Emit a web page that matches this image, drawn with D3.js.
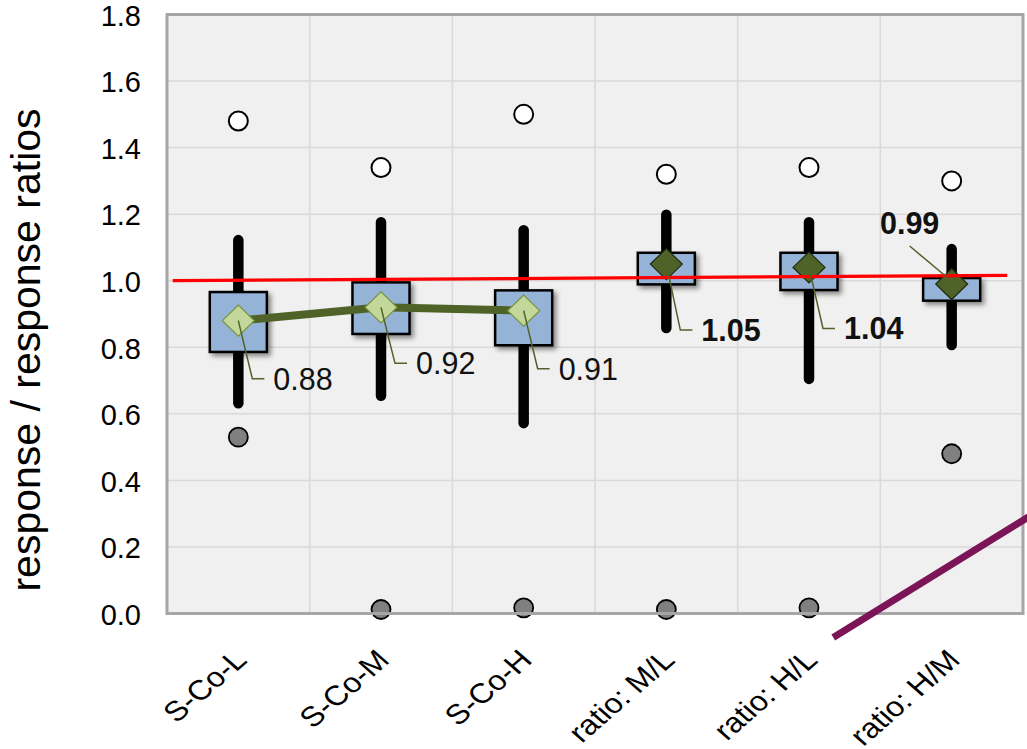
<!DOCTYPE html>
<html>
<head>
<meta charset="utf-8">
<script src="https://cdn.jsdelivr.net/npm/d3@7"></script>
<style>
  html, body { margin: 0; padding: 0; background: #ffffff; }
  svg { display: block; font-family: "Liberation Sans", Arial, sans-serif; }
</style>
</head>
<body>
<svg id="chart" width="1027" height="749"></svg>
<script>
// Groups along the x axis
const categories = ["S-Co-L", "S-Co-M", "S-Co-H", "ratio: M/L", "ratio: H/L", "ratio: H/M"];
// Box (interquartile range) limits
const boxLow  = [0.786, 0.840, 0.806, 0.989, 0.972, 0.940];
const boxHigh = [0.966, 0.995, 0.971, 1.084, 1.084, 1.008];
// Whisker limits
const whiskerLow  = [0.632, 0.654, 0.572, 0.858, 0.705, 0.807];
const whiskerHigh = [1.122, 1.176, 1.152, 1.198, 1.176, 1.095];
// Means (labelled)
const means = [0.88, 0.92, 0.91, 1.05, 1.04, 0.99];
// Extreme values
const maxValues = [1.48, 1.34, 1.50, 1.32, 1.34, 1.30];
const minValues = [0.53, 0.012, 0.017, 0.012, 0.017, 0.48];
// Y axis ticks
const yTicks = [0.0, 0.2, 0.4, 0.6, 0.8, 1.0, 1.2, 1.4, 1.6, 1.8];
// Reference line near 1.0 (category index, value)
const refLine = [[-0.46, 1.0], [5.39, 1.016]];
// Stray diagonal stroke (category index, value)
const diagLine = [[4.17, -0.072], [5.65, 0.32]];
// Vertical offset of each mean label's leader elbow
const labelDrop = [58, 56, 58, 66, 61, -40];

const svg = d3.select("#chart");
const plot = { left: 167, right: 1023, top: 14.5, bottom: 613.5 };

const x = d3.scaleBand().domain(categories).range([plot.left, plot.right]).padding(0);
const xi = d3.scaleLinear()
  .domain([0, categories.length - 1])
  .range([plot.left + x.bandwidth() / 2, plot.right - x.bandwidth() / 2]);
const y = d3.scaleLinear().domain([0, 1.8]).range([plot.bottom, plot.top]);

// Shadow for boxes
const defs = svg.append("defs");
const sh = defs.append("filter").attr("id", "shadow")
  .attr("x", "-30%").attr("y", "-30%").attr("width", "170%").attr("height", "170%");
sh.append("feDropShadow").attr("dx", 3).attr("dy", 3).attr("stdDeviation", 2.5)
  .attr("flood-color", "#000").attr("flood-opacity", 0.45);

// Plot background
svg.append("rect")
  .attr("x", plot.left).attr("y", plot.top)
  .attr("width", plot.right - plot.left).attr("height", plot.bottom - plot.top)
  .attr("fill", "#f0f0f0");

// Gridlines
const grid = svg.append("g").attr("stroke", "#d9d9d9").attr("stroke-width", 1.5);
grid.selectAll("line.h").data(yTicks.slice(1, -1)).join("line")
  .attr("x1", plot.left).attr("x2", plot.right)
  .attr("y1", d => y(d)).attr("y2", d => y(d));
grid.selectAll("line.v").data(categories.slice(1)).join("line")
  .attr("x1", d => x(d)).attr("x2", d => x(d))
  .attr("y1", plot.top).attr("y2", plot.bottom);

// Y axis labels
const yAxis = d3.axisLeft(y).tickValues(yTicks).tickFormat(d3.format(".1f")).tickSize(0).tickPadding(26);
const gy = svg.append("g").attr("transform", `translate(${plot.left},0)`).call(yAxis);
gy.select(".domain").remove();
gy.selectAll("text").attr("font-size", 29).attr("fill", "#000")
  .attr("dy", "0.37em")
  .attr("font-family", "Liberation Sans, Arial, sans-serif");

// Y axis title
svg.append("text")
  .attr("transform", "translate(40,350) rotate(-90)")
  .attr("text-anchor", "middle")
  .attr("font-size", 41).attr("fill", "#000")
  .text("response / response ratios");

// X axis labels (slanted)
const xAxis = d3.axisBottom(x).tickSize(0).tickPadding(0);
const gx = svg.append("g").attr("transform", `translate(0,${plot.bottom})`).call(xAxis);
gx.select(".domain").remove();
gx.selectAll("text")
  .attr("font-size", 30).attr("fill", "#000")
  .attr("font-family", "Liberation Sans, Arial, sans-serif")
  .attr("text-anchor", "end")
  .attr("dy", 0)
  .attr("transform", "translate(10,48) scale(1.07,0.93) rotate(-45)");

// Whiskers
svg.append("g").selectAll("line").data(categories).join("line")
  .attr("x1", d => x(d) + x.bandwidth() / 2).attr("x2", d => x(d) + x.bandwidth() / 2)
  .attr("y1", (d, i) => y(whiskerHigh[i])).attr("y2", (d, i) => y(whiskerLow[i]))
  .attr("stroke", "#000").attr("stroke-width", 10.5).attr("stroke-linecap", "round");

// Boxes
const boxW = x.bandwidth() * 0.4;
svg.append("g").selectAll("rect").data(categories).join("rect")
  .attr("x", d => x(d) + x.bandwidth() / 2 - boxW / 2)
  .attr("width", boxW)
  .attr("y", (d, i) => y(boxHigh[i]))
  .attr("height", (d, i) => y(boxLow[i]) - y(boxHigh[i]))
  .attr("fill", "#95b3d7").attr("stroke", "#000").attr("stroke-width", 2.5)
  .attr("filter", "url(#shadow)");

// Line joining the first three means
svg.append("path")
  .datum(means.slice(0, 3))
  .attr("d", d3.line().x((d, i) => xi(i)).y(d => y(d)))
  .attr("fill", "none").attr("stroke", "#4f6228").attr("stroke-width", 8);

// Extreme value circles
svg.append("g").selectAll("circle").data(maxValues).join("circle")
  .attr("cx", (d, i) => xi(i)).attr("cy", d => y(d)).attr("r", 9.5)
  .attr("fill", "#fff").attr("stroke", "#000").attr("stroke-width", 2);
svg.append("g").selectAll("circle").data(minValues).join("circle")
  .attr("cx", (d, i) => xi(i)).attr("cy", d => y(d)).attr("r", 9.5)
  .attr("fill", "#808080").attr("stroke", "#000").attr("stroke-width", 1.8);

// Mean diamonds
const dW = 16, dH = 15.5;
svg.append("g").selectAll("path").data(means).join("path")
  .attr("d", (d, i) => {
    const cx = xi(i), cy = y(d);
    return `M${cx},${cy - dH}L${cx + dW},${cy}L${cx},${cy + dH}L${cx - dW},${cy}Z`;
  })
  .attr("fill", (d, i) => i < 3 ? "#c4d79b" : "#4f6228")
  .attr("stroke", (d, i) => i < 3 ? "#76923c" : "#1f2a0e")
  .attr("stroke-width", 1.2);

// Reference line
svg.append("path")
  .datum(refLine)
  .attr("d", d3.line().x(d => xi(d[0])).y(d => y(d[1])))
  .attr("stroke", "#ff0000").attr("stroke-width", 3.2).attr("fill", "none");

// Mean labels with leader lines
const labels = svg.append("g");
means.forEach((m, i) => {
  const cx = xi(i), cy = y(m);
  const drop = labelDrop[i];
  const bold = i >= 3;
  if (drop > 0) {
    labels.append("path")
      .attr("d", `M${cx},${cy}L${cx + 14},${cy + drop}L${cx + 26},${cy + drop}`)
      .attr("fill", "none").attr("stroke", "#4f6228").attr("stroke-width", 1.5);
    labels.append("text")
      .attr("x", cx + 35).attr("y", cy + drop + 11)
      .attr("font-size", 30.5).attr("font-weight", bold ? "bold" : "normal")
      .attr("fill", "#111").text(d3.format(".2f")(m));
  } else {
    labels.append("path")
      .attr("d", `M${cx - 5},${cy - 7}L${cx - 42},${cy + drop + 2}`)
      .attr("fill", "none").attr("stroke", "#4f6228").attr("stroke-width", 1.5);
    labels.append("text")
      .attr("x", cx - 42).attr("y", cy + drop - 10)
      .attr("text-anchor", "middle")
      .attr("font-size", 30.5).attr("font-weight", bold ? "bold" : "normal")
      .attr("fill", "#111").text(d3.format(".2f")(m));
  }
});

// Plot frame
svg.append("rect")
  .attr("x", plot.left).attr("y", plot.top)
  .attr("width", plot.right - plot.left).attr("height", plot.bottom - plot.top)
  .attr("fill", "none").attr("stroke", "#a6a6a6").attr("stroke-width", 3);

// Diagonal stroke
svg.append("path")
  .datum(diagLine)
  .attr("d", d3.line().x(d => xi(d[0])).y(d => y(d[1])))
  .attr("stroke", "#7b1558").attr("stroke-width", 7).attr("fill", "none");
</script>
</body>
</html>
